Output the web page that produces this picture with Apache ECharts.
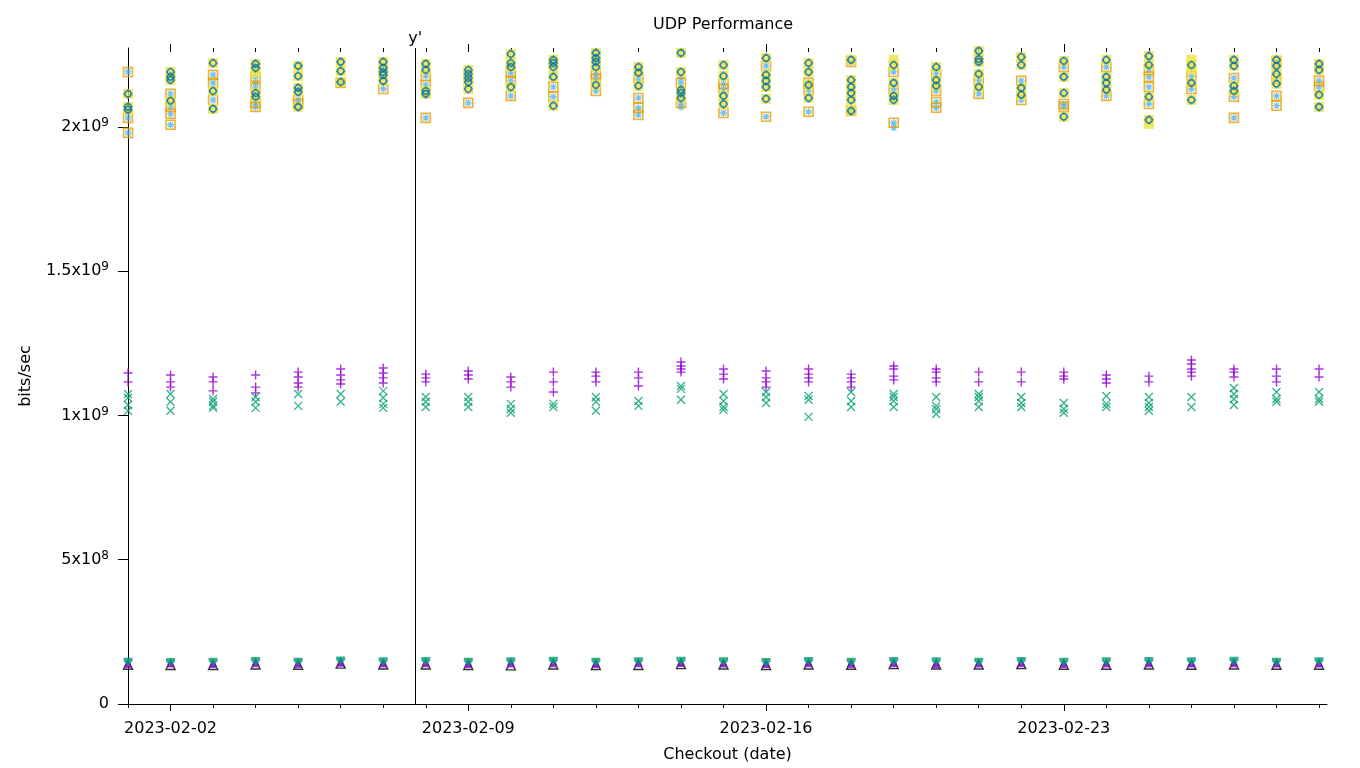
<!DOCTYPE html>
<html><head><meta charset="utf-8">
<script src="https://cdn.jsdelivr.net/npm/echarts@6/dist/echarts.min.js"></script>
<style>html,body{margin:0;padding:0;background:#fff}#c{width:1360px;height:768px}</style>
</head><body><div id="c"></div>
<script>
// ---------- data (values in Gbit/s, one inner list per checkout date) ----------
const dates = ['2023-02-01','2023-02-02','2023-02-03','2023-02-04','2023-02-05','2023-02-06','2023-02-07',
  '2023-02-08','2023-02-09','2023-02-10','2023-02-11','2023-02-12','2023-02-13','2023-02-14',
  '2023-02-15','2023-02-16','2023-02-17','2023-02-18','2023-02-19','2023-02-20','2023-02-21',
  '2023-02-22','2023-02-23','2023-02-24','2023-02-25','2023-02-26','2023-02-27','2023-02-28','2023-03-01'];

const purplePlus = [[1.147,1.116],[1.140,1.116,1.098],[1.133,1.116,1.085],[1.140,1.098,1.078],[1.150,1.133,1.112,1.098],
  [1.161,1.140,1.123,1.109],[1.164,1.147,1.130,1.112],[1.143,1.130,1.116],[1.154,1.140,1.126],[1.133,1.116,1.098],
  [1.150,1.116,1.081],[1.150,1.136,1.116],[1.150,1.130,1.102],[1.185,1.171,1.161,1.150],[1.161,1.143,1.126],
  [1.154,1.130,1.116,1.098],[1.161,1.143,1.130,1.116],[1.143,1.130,1.116,1.098],[1.171,1.161,1.136,1.123],
  [1.161,1.150,1.130,1.116],[1.150,1.116],[1.150,1.116],[1.150,1.136,1.126],[1.140,1.126,1.112],[1.136,1.116],
  [1.192,1.178,1.161,1.150,1.136],[1.161,1.150,1.133],[1.161,1.136,1.116],[1.161,1.133]];

const greenCross = [[1.074,1.061,1.036,1.016],[1.074,1.047,1.016],[1.057,1.047,1.033,1.026],[1.064,1.047,1.026],[1.074,1.033],
  [1.074,1.047],[1.085,1.061,1.040,1.026],[1.064,1.047,1.029],[1.064,1.047,1.029],[1.040,1.022,1.009],
  [1.040,1.029],[1.064,1.047,1.016],[1.050,1.033],[1.102,1.092,1.054],[1.074,1.050,1.029,1.019],
  [1.081,1.064,1.043],[1.067,1.054,0.995],[1.081,1.050,1.029],[1.074,1.064,1.050,1.029],
  [1.064,1.033,1.022,1.005],[1.074,1.064,1.050,1.029],[1.064,1.043,1.029],[1.043,1.022,1.009],[1.067,1.040,1.029],
  [1.064,1.043,1.029,1.016],[1.064,1.029],[1.095,1.074,1.057,1.036],[1.081,1.057,1.047],[1.081,1.057,1.047]];

const orangeSquare = [[2.190,2.031,1.979],[2.114,2.069,2.045,2.007],[2.180,2.152,2.093],[2.173,2.135,2.083,2.069],[2.093,2.079],
  [2.152],[2.131],[2.176,2.145,2.031],[2.083],[2.187,2.159,2.107],
  [2.138,2.104],[2.183,2.166,2.124],[2.166,2.100,2.066,2.041],[2.152,2.083],[2.149,2.131,2.048],
  [2.211,2.035],[2.152,2.128,2.052],[2.225,2.055],[2.190,2.131,2.014],
  [2.183,2.124,2.086,2.066],[2.162,2.114],[2.159,2.093],[2.207,2.079,2.069],[2.207,2.107],
  [2.197,2.173,2.138,2.079],[2.176,2.131],[2.169,2.104,2.031],[2.225,2.166,2.107,2.073],[2.159,2.138]];

const lightBlueStar = [[2.190,2.031,1.979],[2.114,2.069,2.045,2.007],[2.180,2.152,2.093],[2.173,2.152,2.135,2.083,2.069],[2.093,2.079],
  [2.152],[2.131],[2.176,2.145,2.031],[2.083],[2.187,2.159,2.107],
  [2.138,2.104],[2.183,2.166,2.124],[2.166,2.100,2.066,2.041],[2.169,2.152,2.083,2.069],[2.149,2.131,2.048],
  [2.211,2.035],[2.152,2.128,2.052],[2.225,2.055],[2.190,2.131,2.014,1.997],
  [2.183,2.124,2.086,2.066],[2.162,2.114],[2.159,2.093],[2.207,2.079,2.069],[2.207,2.107],
  [2.197,2.173,2.138,2.079],[2.176,2.131],[2.169,2.104,2.031],[2.225,2.166,2.107,2.073],[2.159,2.138]];

const yellowSquare = [[2.114,2.069,2.059],[2.190,2.173,2.162,2.090],[2.221,2.124,2.062],[2.218,2.204,2.187,2.117,2.104],[2.211,2.176,2.135,2.121,2.069],
  [2.225,2.193,2.155],[2.225,2.204,2.190,2.180,2.159],[2.218,2.197,2.124,2.114],[2.197,2.183,2.169,2.155,2.131],[2.252,2.221,2.207,2.138],
  [2.232,2.221,2.207,2.173,2.073],[2.256,2.238,2.225,2.207,2.145],[2.207,2.187,2.142],[2.256,2.190,2.128,2.117,2.100],[2.214,2.176,2.107,2.079],
  [2.238,2.180,2.159,2.138,2.097],[2.221,2.190,2.145,2.100],[2.232,2.162,2.138,2.117,2.093,2.055],[2.232,2.214,2.152,2.107,2.093],
  [2.207,2.162,2.142],[2.263,2.235,2.225,2.183,2.138],[2.242,2.214,2.135,2.111],[2.228,2.173,2.117,2.035],[2.232,2.173,2.152,2.128],
  [2.245,2.214,2.104,2.024,2.010],[2.232,2.214,2.197,2.152,2.093],[2.232,2.211,2.142,2.124],[2.232,2.211,2.183,2.149],[2.218,2.197,2.111,2.069]];

const blueCircle = [[2.114,2.069,2.059],[2.190,2.173,2.162,2.090],[2.221,2.124,2.062],[2.218,2.204,2.117,2.104],[2.211,2.176,2.135,2.121,2.069],
  [2.225,2.193,2.155],[2.225,2.204,2.190,2.180,2.159],[2.218,2.197,2.124,2.114],[2.197,2.183,2.169,2.155,2.131],[2.252,2.221,2.207,2.138],
  [2.232,2.221,2.207,2.173,2.073],[2.256,2.238,2.225,2.207,2.145],[2.207,2.187,2.142],[2.256,2.190,2.128,2.117,2.100],[2.214,2.176,2.107,2.079],
  [2.238,2.180,2.159,2.138,2.097],[2.221,2.190,2.145,2.100],[2.232,2.162,2.138,2.117,2.093,2.055],[2.214,2.152,2.107,2.093],
  [2.207,2.162,2.142],[2.263,2.235,2.225,2.183,2.138],[2.242,2.214,2.135,2.111],[2.228,2.173,2.117,2.035],[2.232,2.173,2.152,2.128],
  [2.245,2.214,2.104,2.024],[2.214,2.152,2.093],[2.232,2.211,2.142,2.124],[2.232,2.211,2.183,2.149],[2.218,2.197,2.111,2.069]];

const blackTriangle = [[0.136],[0.135],[0.135],[0.137],[0.136],[0.140],[0.137],[0.137],[0.135],[0.134],
  [0.137],[0.135],[0.135],[0.138],[0.137],[0.135],[0.137],[0.136],[0.138],[0.137],[0.137],[0.138],[0.136],
  [0.136],[0.137],[0.136],[0.137],[0.136],[0.136]];
const purpleTriangle = [[0.139,0.144],[0.140,0.145],[0.139,0.144],[0.141,0.147],[0.139,0.144],[0.143,0.147],[0.140,0.145],
  [0.141,0.146],[0.139,0.144],[0.140,0.147],[0.141,0.148],[0.139,0.144],[0.141,0.146],[0.142,0.147],[0.140,0.145],
  [0.139,0.144],[0.141,0.146],[0.139,0.145],[0.141,0.147],[0.139,0.145],[0.140,0.145],[0.141,0.146],[0.139,0.145],
  [0.140,0.145],[0.141,0.146],[0.140,0.145],[0.141,0.147],[0.140,0.145],[0.140,0.145]];
const greenTriangle = [[0.145],[0.144],[0.145],[0.147],[0.145],[0.149],[0.146],[0.147],[0.145],[0.146],
  [0.148],[0.145],[0.146],[0.148],[0.146],[0.144],[0.147],[0.145],[0.147],[0.146],[0.145],[0.147],[0.145],
  [0.146],[0.147],[0.146],[0.148],[0.145],[0.146]];

const yTickValues = [0, 5e8, 1e9, 1.5e9, 2e9];
const xLabelDates = ['2023-02-02','2023-02-09','2023-02-16','2023-02-23'];
const xStart = '2023-02-01T00:00:00Z';
const xEnd = '2023-03-01T04:30:00Z';
const yMax = 2.273e9;
const yPrimeTime = '2023-02-07T18:00:00Z';

// ---------- helpers ----------
const T0 = Date.parse(xStart);
const dayOff = s => (Date.parse(s.length === 10 ? s + 'T00:00:00Z' : s) - T0) / 864e5;
const xMax = dayOff(xEnd);
const allDays = dates.map(dayOff);
const majorDays = xLabelDates.map(dayOff);
const fmtDate = v => new Date(T0 + v * 864e5).toISOString().slice(0, 10);
const pts = arr => { const o = []; arr.forEach((vals, i) => vals.forEach(v => o.push([dayOff(dates[i]), v * 1e9]))); return o; };

const FONT = 'DejaVu Sans';
const C = { purple: '#9400d3', green: '#009e73', lblue: '#56b4e9', orange: '#e69f00', yellow: '#f0e442', blue: '#0072b2', black: '#000000' };

const SYM = {
  plus: 'path://M0,4L8,4M4,0L4,8',
  cross: 'path://M0,0L8,8M8,0L0,8',
  star: 'path://M0,4L8,4M4,0L4,8M1,1L7,7M7,1L1,7',
  circ: 'path://M-1.3,-3L1.3,-3L3,-1.3L3,1.3L1.3,3L-1.3,3L-3,1.3L-3,-1.3ZM0,-3L0,-4.5M0,3L0,4.5M-3,0L-4.5,0M3,0L4.5,0'
};

function stroked(name, data, sym, size, color, w) {
  return { name, type: 'scatter', data, symbol: sym, symbolSize: size, xAxisIndex: 0, yAxisIndex: 0,
    itemStyle: { color: 'transparent', borderColor: color, borderWidth: w || 1.2 }, silent: true };
}
function filled(name, data, sym, size, color) {
  return { name, type: 'scatter', data, symbol: sym, symbolSize: size, xAxisIndex: 0, yAxisIndex: 0,
    itemStyle: { color, borderWidth: 0 }, silent: true };
}

const s1 = stroked('purple +', pts(purplePlus), SYM.plus, 9, C.purple, 1.4);
s1.markLine = { silent: true, symbol: ['none', 'none'], animation: false,
  lineStyle: { color: '#000', width: 1, type: 'solid' },
  label: { show: true, position: 'end', formatter: "y'", color: '#000', fontSize: 16, fontFamily: FONT, distance: 1 },
  data: [{ xAxis: dayOff(yPrimeTime) }] };

const series = [
  s1,
  stroked('green x', pts(greenCross), SYM.cross, 8, C.green, 1.3),
  stroked('light blue *', pts(lightBlueStar), SYM.star, 7, C.lblue, 1.3),
  stroked('orange square', pts(orangeSquare), 'rect', 9, C.orange, 1.6),
  filled('yellow square', pts(yellowSquare), 'rect', 10, C.yellow),
  stroked('blue circle', pts(blueCircle), SYM.circ, 9, C.blue, 1.6),
  stroked('black triangle', pts(blackTriangle), 'triangle', 9, C.black, 1.4),
  filled('purple triangle', pts(purpleTriangle), 'triangle', 8, C.purple),
  filled('green triangle', pts(greenTriangle), 'path://M0,0L8,0L8,3L4,8L0,3Z', 9, C.green)
];

const xBase = { type: 'value', min: 0, max: xMax, splitLine: { show: false } };
const option = {
  animation: false,
  backgroundColor: '#fff',
  textStyle: { fontFamily: FONT },
  title: { text: 'UDP Performance', left: 718, textAlign: 'center', top: 12,
    textStyle: { fontSize: 16, fontWeight: 'normal', color: '#000', fontFamily: FONT } },
  grid: { left: 128, right: 33, top: 48, bottom: 62, containLabel: false },
  xAxis: [
    Object.assign({}, xBase, { position: 'bottom', axisLine: { show: true, lineStyle: { color: '#000', width: 1 } },
      axisTick: { show: true, length: 4, customValues: allDays, lineStyle: { color: '#000' } }, axisLabel: { show: false } }),
    Object.assign({}, xBase, { position: 'bottom', axisLine: { show: false },
      axisTick: { show: true, length: 7, customValues: majorDays, lineStyle: { color: '#000' } },
      axisLabel: { show: true, customValues: majorDays, formatter: fmtDate, margin: 17, fontSize: 16, color: '#000', fontFamily: FONT },
      name: 'Checkout (date)', nameLocation: 'middle', nameGap: 43,
      nameTextStyle: { fontSize: 16, color: '#000', fontFamily: FONT } }),
    Object.assign({}, xBase, { position: 'top', axisLine: { show: false },
      axisTick: { show: true, inside: true, length: 4, customValues: allDays, lineStyle: { color: '#000' } }, axisLabel: { show: false } }),
    Object.assign({}, xBase, { position: 'top', axisLine: { show: false },
      axisTick: { show: true, length: 4, customValues: majorDays, lineStyle: { color: '#000' } }, axisLabel: { show: false } })
  ],
  yAxis: [
    { type: 'value', position: 'left', min: 0, max: yMax, splitLine: { show: false },
      axisLine: { show: true, lineStyle: { color: '#000', width: 1 } },
      axisTick: { show: true, length: 10, customValues: yTickValues, lineStyle: { color: '#000' } },
      axisLabel: { show: true, customValues: yTickValues, margin: 19, color: '#000',
        formatter: v => {
          if (v === 0) return '{n|0}';
          const e = Math.floor(Math.log10(v) + 1e-9);
          const m = +(v / Math.pow(10, e)).toFixed(2);
          return '{n|' + m + 'x10}{s|' + e + '}';
        },
        rich: {
          n: { fontSize: 16, fontFamily: FONT, color: '#000', lineHeight: 20 },
          s: { fontSize: 12, fontFamily: FONT, color: '#000', verticalAlign: 'top', lineHeight: 12 }
        } },
      name: 'bits/sec', nameLocation: 'middle', nameGap: 94,
      nameTextStyle: { fontSize: 16, color: '#000', fontFamily: FONT } },
    { type: 'value', position: 'right', min: 0, max: yMax, splitLine: { show: false },
      axisLine: { show: false },
      axisTick: { show: true, inside: true, length: 8, customValues: yTickValues, lineStyle: { color: '#000' } },
      axisLabel: { show: false } }
  ],
  series
};

const chart = echarts.init(document.getElementById('c'), null, { renderer: 'canvas' });
chart.setOption(option);
</script>
</body></html>
